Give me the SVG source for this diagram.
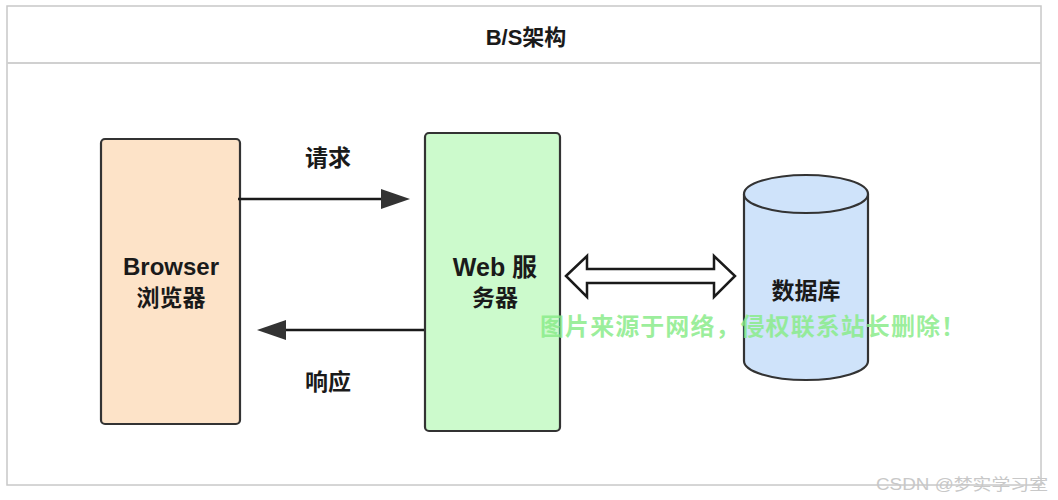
<svg xmlns="http://www.w3.org/2000/svg" width="1058" height="500" viewBox="0 0 1058 500">
<defs>
<style>
.lbl{font-family:"Liberation Sans","Noto Sans CJK SC",sans-serif;font-weight:bold;fill:#1a1a1a;text-anchor:middle}
.node{stroke:#333;stroke-width:2.2}
</style>
</defs>
<rect width="1058" height="500" fill="#fff"/>
<g id="frame">
<rect x="7" y="6" width="1034" height="479" fill="#fff" stroke="#c8c8c8" stroke-width="1.5"/>
<line x1="7" y1="63" x2="1041" y2="63" stroke="#d0d0d0" stroke-width="2"/>
<text class="lbl" x="526" y="45" font-size="22">B/S架构</text>
</g>
<g id="browser">
<rect class="node" x="101" y="139" width="139" height="285" rx="4" fill="#fde3c8"/>
<text class="lbl" x="171" y="275" font-size="24">Browser</text>
<text class="lbl" x="171" y="306" font-size="23">浏览器</text>
</g>
<g id="web">
<rect class="node" x="425" y="133" width="135" height="298" rx="4" fill="#ccfacc"/>
<text class="lbl" x="495" y="276" font-size="25">Web 服</text>
<text class="lbl" x="495" y="306" font-size="23">务器</text>
</g>
<g id="db">
<path class="node" d="M744,194 L744,361 A62,19 0 0 0 868,361 L868,194" fill="#cfe3fa"/>
<ellipse class="node" cx="806" cy="194" rx="62" ry="19" fill="#cfe3fa"/>
<text class="lbl" x="806" y="299" font-size="23">数据库</text>
</g>
<g id="connectors">
<line x1="238" y1="199" x2="385" y2="199" stroke="#1a1a1a" stroke-width="2.5"/>
<path d="M410,199 L381,189 L381,209 z" fill="#333"/>
<text class="lbl" x="328" y="166" font-size="23">请求</text>
<line x1="424" y1="330" x2="282" y2="330" stroke="#1a1a1a" stroke-width="2.5"/>
<path d="M257,330 L286,320 L286,340 z" fill="#333"/>
<text class="lbl" x="328" y="390" font-size="23">响应</text>
<path d="M566,276 L587,256 L587,269 L714,269 L714,256 L735,276 L714,297 L714,283 L587,283 L587,297 z" fill="#fff" stroke="#1a1a1a" stroke-width="2.5" stroke-linejoin="miter"/>
</g>
<g id="watermarks">
<text x="540" y="335" font-family="Liberation Sans,'Noto Sans CJK SC',sans-serif" font-size="24" font-weight="bold" fill="#8aec8a" fill-opacity="0.85" textLength="425" lengthAdjust="spacing">图片来源于网络，侵权联系站长删除！</text>
<text x="876" y="490" font-family="Liberation Sans,'Noto Sans CJK SC',sans-serif" font-size="16" fill="#c8c8c8" textLength="172" lengthAdjust="spacingAndGlyphs">CSDN @梦实学习室</text>
</g>
</svg>
